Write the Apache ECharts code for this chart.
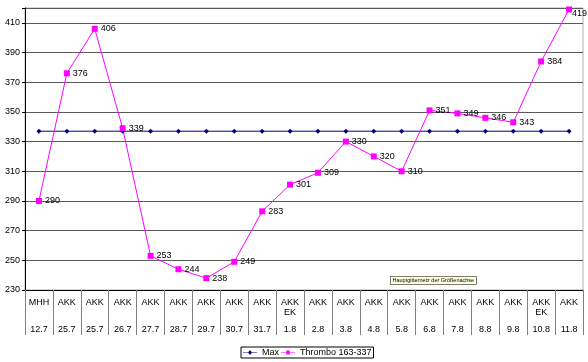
<!DOCTYPE html>
<html><head><meta charset="utf-8">
<script src="https://cdn.jsdelivr.net/npm/echarts@6/dist/echarts.min.js"></script>
<style>html,body{margin:0;padding:0;background:#fff}#c{width:588px;height:362px}</style>
</head><body><div id="c"></div>
<script>
const places = ['MHH','AKK','AKK','AKK','AKK','AKK','AKK','AKK','AKK','AKK','AKK','AKK','AKK','AKK','AKK','AKK','AKK','AKK','AKK','AKK'];
const subs = ['','','','','','','','','','EK','','','','','','','','','EK',''];
const dates = ['12.7','25.7','25.7','26.7','27.7','28.7','29.7','30.7','31.7','1.8','2.8','3.8','4.8','5.8','6.8','7.8','8.8','9.8','10.8','11.8'];
const maxValues = [337,337,337,337,337,337,337,337,337,337,337,337,337,337,337,337,337,337,337,337];
const thrombo = [290,376,406,339,253,244,238,249,283,301,309,330,320,310,351,349,346,343,384,419];
const yTicks = [230,250,270,290,310,330,350,370,390,410];

const categories = places.map((p,i)=>p+'|'+subs[i]+'|'+dates[i]);
const font = 'Liberation Sans, Arial, sans-serif';
const chart = echarts.init(document.getElementById('c'));
chart.setOption({
  animation:false,
  textStyle:{fontFamily:font},
  grid:{left:25,right:5,top:8,bottom:72,show:true,borderColor:'#b0b0b0',borderWidth:1},
  legend:{
    bottom:4,left:241,
    itemWidth:14,itemHeight:8,itemGap:2,
    borderColor:'#000',borderWidth:1,padding:[1,2,1,2],
    textStyle:{fontSize:9,color:'#000',fontFamily:font},
    data:[
      {name:'Max',icon:'path://M0,4.5 L7.5,4.5 L10,1.5 L12.5,4.5 L20,4.5 L20,5.5 L12.5,5.5 L10,8.5 L7.5,5.5 L0,5.5 Z'},
      {name:'Thrombo 163-337',icon:'path://M0,4.5 L7.5,4.5 L7.5,2 L12.5,2 L12.5,4.5 L20,4.5 L20,5.5 L12.5,5.5 L12.5,8 L7.5,8 L7.5,5.5 L0,5.5 Z'}
    ]
  },
  xAxis:{
    type:'category',data:categories,boundaryGap:true,
    axisLine:{lineStyle:{color:'#000',width:1}},
    axisTick:{show:true,length:45,lineStyle:{color:'#808080'}},
    axisLabel:{
      interval:0,margin:8,color:'#000',
      formatter:function(v){const s=v.split('|');return '{a|'+s[0]+'}\n{a|'+(s[1]||' ')+'}\n{d|'+s[2]+'}';},
      rich:{a:{fontSize:9,lineHeight:10,fontFamily:font,color:'#000'},d:{fontSize:9,lineHeight:24,fontFamily:font,color:'#000'}}
    }
  },
  yAxis:{
    type:'value',min:230,max:420,interval:20,
    axisLine:{show:true,lineStyle:{color:'#000'}},
    axisTick:{show:true,length:3,lineStyle:{color:'#000'}},
    axisLabel:{fontSize:9,color:'#000',margin:5,formatter:function(v){return yTicks.indexOf(v)>=0?String(v):'';}},
    splitLine:{show:true,lineStyle:{color:'#5a5a5a',width:1}}
  },
  series:[
    {name:'Max',type:'line',data:maxValues,symbol:'diamond',symbolSize:5,
     itemStyle:{color:'#000080'},lineStyle:{color:'#000080',width:1}},
    {name:'Thrombo 163-337',type:'line',data:thrombo,symbol:'rect',symbolSize:6,
     itemStyle:{color:'#ff00ff'},lineStyle:{color:'#ff00ff',width:1},
     label:{show:true,position:'right',distance:3,fontSize:9,color:'#000',fontFamily:font},
     labelLayout:function(p){
       const r=p.labelRect; if(r.x+r.width>587){return {x:587-r.width};} return {};
     }}
  ],
  graphic:[{
    type:'text',left:390,top:276,
    style:{text:'Hauptgitternetz der Größenachse',fontSize:5.5,fill:'#000',fontFamily:font,
      backgroundColor:'#ffffe1',borderColor:'#000',borderWidth:0.5,padding:[1,2,1,2]}
  }]
});
</script></body></html>
